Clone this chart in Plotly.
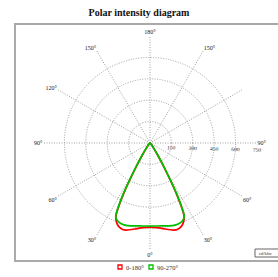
import plotly.graph_objects as go

# Data (gamma angle in degrees, intensity in cd/klm)
gamma = [0, 5, 10, 15, 17.5, 20, 22.5, 25, 27.5, 30, 32.5, 35, 40, 45, 50, 60, 70, 80, 90]
red_c0_180 = [589, 595, 612, 632, 636, 628, 608, 565, 400, 200, 100, 50, 20, 8, 3, 0, 0, 0, 0]
green_c90_270 = [582, 584, 590, 600, 602, 600, 592, 568, 420, 215, 110, 55, 22, 9, 3, 0, 0, 0, 0]

radial_ticks = [150, 300, 450, 600, 750]
ang_vals = [0, 30, 60, 90, 120, 150, 180, 210, 240, 270, 300, 330]
ang_text = ["0°", "30°", "60°", "90°", "", "150°", "180°", "150°", "120°", "90°", "60°", "30°"]
series_names = ["0-180°", "90-270°"]
series_colors = ["#ff0000", "#00c000"]

W, H = 278, 277
def px(x):
    return x / W
def py(y):
    return 1 - y / H

fig = go.Figure()

for vals, name, col in zip([red_c0_180, green_c90_270], series_names, series_colors):
    theta = [-g for g in reversed(gamma)] + gamma[1:]
    r = list(reversed(vals)) + vals[1:]
    fig.add_trace(go.Scatterpolar(
        r=r, theta=theta, mode="lines", name=name,
        line=dict(color=col, width=1.7, shape="spline", smoothing=0.6),
        showlegend=False, hoverinfo="skip"))

cx, cy, rad = 150, 143, 107

shapes = [
    dict(type="rect", xref="paper", yref="paper", x0=px(15), x1=px(300), y0=py(261), y1=py(24),
         line=dict(color="#aaa", width=2)),
    dict(type="rect", xref="paper", yref="paper", x0=px(255), x1=px(300), y0=py(257), y1=py(249),
         line=dict(color="#666", width=1)),
]
annotations = [
    dict(text="cd/klm", xref="paper", yref="paper", x=px(257), y=py(253), xanchor="left",
         yanchor="middle", showarrow=False, font=dict(size=4.5, family="Liberation Serif", color="#333")),
]
leg_x = [118, 149]
for name, col, lx in zip(series_names, series_colors, leg_x):
    shapes.append(dict(type="rect", xref="paper", yref="paper", x0=px(lx), x1=px(lx + 4),
                       y0=py(269), y1=py(265), line=dict(color=col, width=1.3)))
    annotations.append(dict(text=name, xref="paper", yref="paper", x=px(lx + 6), y=py(267),
                            xanchor="left", yanchor="middle", showarrow=False,
                            font=dict(size=6.5, family="Liberation Serif", color="#333")))

fig.update_layout(
    width=W, height=H,
    margin=dict(l=0, r=0, t=0, b=0),
    paper_bgcolor="white",
    showlegend=False,
    font=dict(family="Liberation Serif", size=6, color="#333"),
    title=dict(text="<b>Polar intensity diagram</b>", x=0.5, xanchor="center",
               y=py(12), yanchor="middle", font=dict(family="Liberation Serif", size=10, color="#111")),
    polar=dict(
        domain=dict(x=[px(cx - rad), px(cx + rad)], y=[py(cy + rad), py(cy - rad)]),
        bgcolor="white",
        angularaxis=dict(rotation=-90, direction="counterclockwise",
                         tickmode="array", tickvals=ang_vals, ticktext=ang_text,
                         showline=False, ticks="", gridcolor="#888", griddash="1px,1.5px", gridwidth=0.8,
                         tickfont=dict(size=6, family="Liberation Serif", color="#222")),
        radialaxis=dict(range=[0, 750], tickmode="array", tickvals=radial_ticks,
                        angle=-1.5, side="clockwise", showline=False,
                        ticks="", gridcolor="#888", griddash="1px,1.5px", gridwidth=0.8,
                        tickfont=dict(size=5.5, family="Liberation Serif", color="#222")),
    ),
    shapes=shapes,
    annotations=annotations,
)

fig.write_html("out.html", config=dict(displayModeBar=False, staticPlot=True),
               post_script="document.body.style.margin='0px';document.body.style.overflow='hidden';")
